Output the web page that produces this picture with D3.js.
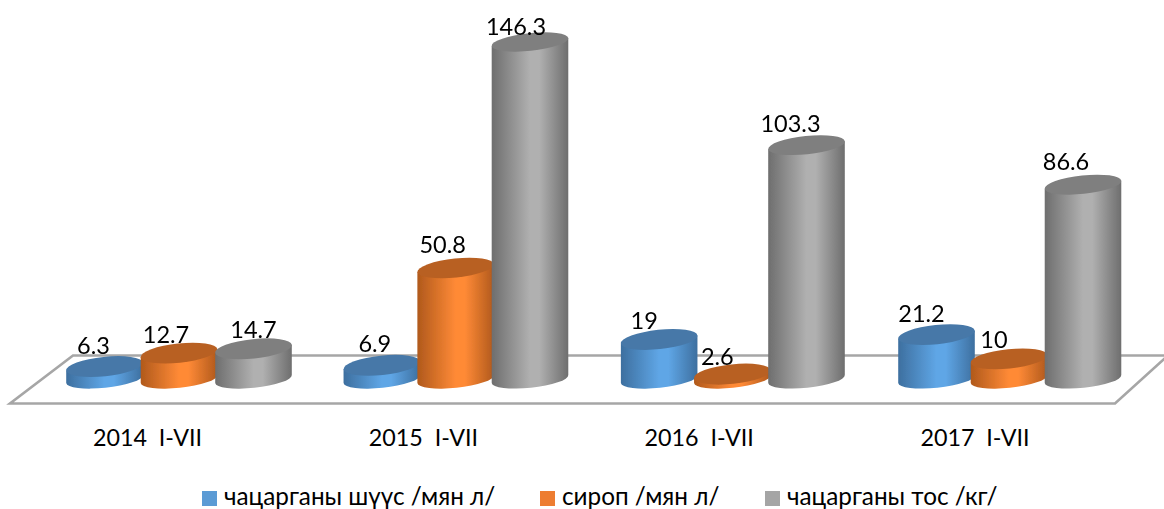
<!DOCTYPE html>
<html><head><meta charset="utf-8">
<script src="https://d3js.org/d3.v7.min.js"></script>
<style>
html,body{margin:0;padding:0;background:#fff;overflow:hidden}
svg{display:block;font-family:Lato,"Open Sans",sans-serif}
text{white-space:pre;fill:#000}
</style></head><body>
<script>
const categories = ["2014  I-VII","2015  I-VII","2016  I-VII","2017  I-VII"];
const seriesNames = ["чацарганы шүүс /мян л/","сироп /мян л/","чацарганы тос /кг/"];
const shuus = [6.3,6.9,19,21.2];
const sirop = [12.7,50.8,2.6,10];
const tos = [14.7,146.3,103.3,86.6];
const seriesValues = [shuus,sirop,tos];
// [side dark, side light, top]
const palette = [["#3d6f9f","#5fa6e6","#4678a8"],["#b0591c","#ff8a36","#b86023"],["#6e6e6e","#b0b0b0","#7f7f7f"]];
const legendColors = ["#5b9bd5","#ed7d31","#a5a5a5"];
// hand-read label nudges, per series per category
const labelDx = [[-11,-7,-15,-15],[-13,-13,-15,-15],[0,-14,-16,-17]];
const labelDy = [[-21,-22,-19,-21],[-19,-24,-18,-19],[-19,-16,-22,-23]];

const W=1164,H=509,baseY=379,rx=38.5,baseRy=8.8,tilt=-6;
const rad=tilt*Math.PI/180, ex=rx*Math.cos(rad), ey=rx*Math.sin(rad);
const svg=d3.select("body").append("svg").attr("width",W).attr("height",H);
const defs=svg.append("defs");
defs.append("filter").attr("id","soft").append("feGaussianBlur").attr("stdDeviation",0.5);
palette.forEach((p,i)=>{
  const g=defs.append("linearGradient").attr("id","g"+i);
  [[0,p[0]],[.5,p[1]],[.62,p[1]],[1,p[0]]].forEach(s=>g.append("stop").attr("offset",s[0]).attr("stop-color",s[1]));
});

// slight perspective stretch on the value axis
const y=d3.scalePow().exponent(1.05).domain([0,146.3]).range([baseY,42]);
// top ellipses look slightly rounder close to the floor
const topRy=d3.scaleLinear().domain([0,146.3]).range([9.8,8.8]);
const seriesRanges=[[104.5,936.5],[179,1009],[253.5,1083]];
const xScales=seriesRanges.map(r=>d3.scalePoint().domain(categories).range(r));
const axisX=d3.scalePoint().domain(categories).range([147,974.5]);

// floor
const floor=[[10,403.5],[1115,403.5],[1168,355.5],[73,355.5]];
svg.append("path").attr("d",d3.line()(floor)+"Z").attr("fill","#fff").attr("stroke","#a6a6a6").attr("stroke-width",2.6).attr("filter","url(#soft)");

// cylinders
const bars=svg.append("g").attr("filter","url(#soft)");
seriesNames.forEach((name,si)=>{
  seriesValues[si].forEach((v,ci)=>{
    const cx=xScales[si](categories[ci]), t=y(v), b=y(0);
    const g=bars.append("g");
    g.append("path").attr("fill",`url(#g${si})`)
     .attr("d",`M${cx-ex},${t-ey}L${cx-ex},${b-ey}A${rx},${baseRy} ${tilt} 0 0 ${cx+ex},${b+ey}L${cx+ex},${t+ey}Z`);
    g.append("ellipse").attr("rx",rx).attr("ry",topRy(v)).attr("fill",palette[si][2])
     .attr("transform",`translate(${cx},${t}) rotate(${tilt})`);
  });
});

// data labels
seriesNames.forEach((name,si)=>{
  seriesValues[si].forEach((v,ci)=>{
    svg.append("text").attr("text-anchor","middle").attr("font-size",23.5)
      .attr("x",xScales[si](categories[ci])+labelDx[si][ci])
      .attr("y",y(v)+labelDy[si][ci]+8.5).text(v);
  });
});

// category axis
const ax=svg.append("g").attr("transform","translate(0,430)").call(d3.axisBottom(axisX).tickSize(0).tickPadding(0));
ax.select(".domain").remove();
ax.selectAll("text").attr("font-size",23.3).attr("font-family","Lato").attr("y",0).attr("dy","16");

// legend
const legendX=[202,540,765];
seriesNames.forEach((n,i)=>{
  svg.append("rect").attr("x",legendX[i]).attr("y",491).attr("width",15).attr("height",15).attr("fill",legendColors[i]);
  svg.append("text").attr("x",legendX[i]+22).attr("y",505).attr("font-size",24.3).text(n);
});
</script>
</body></html>
